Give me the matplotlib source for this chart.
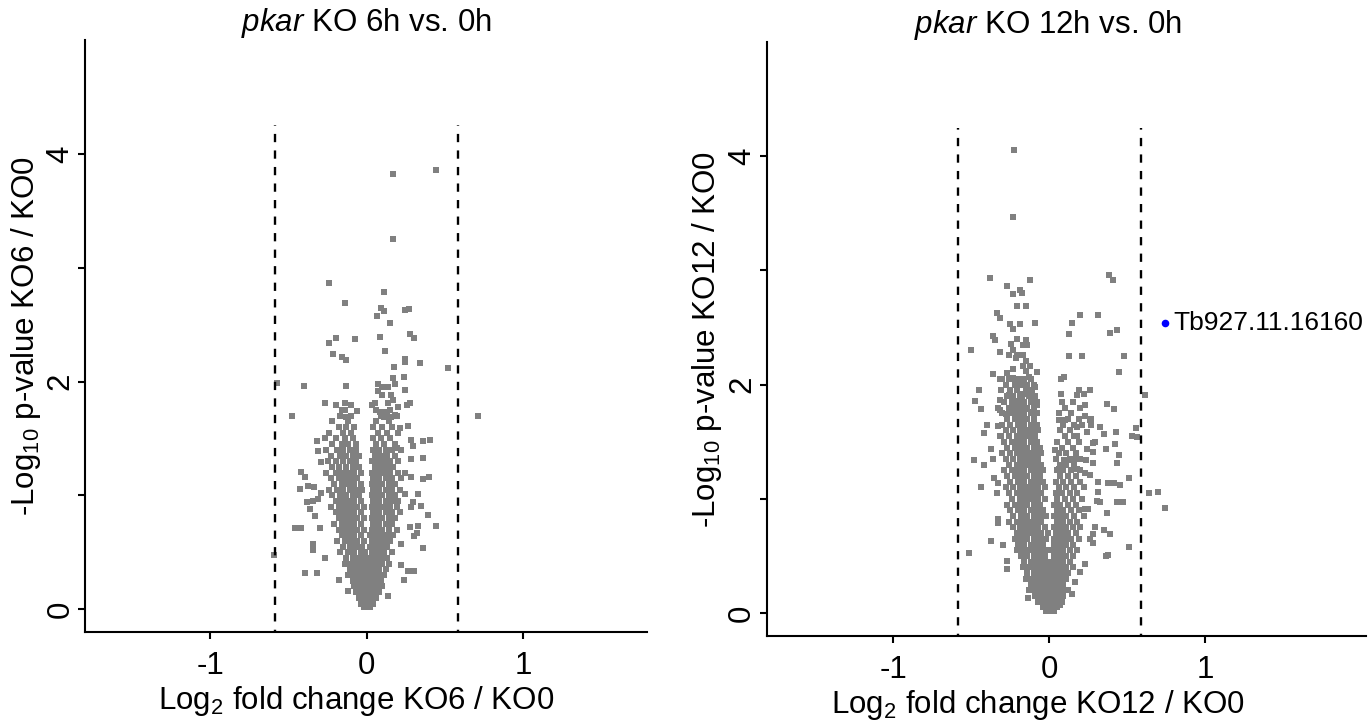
"""
Volcano plots: pkar KO 6h and 12h vs. 0h.
Output: out.png
"""

import numpy as np
import matplotlib.pyplot as plt

plt.rcParams["font.family"] = ["Liberation Sans", "DejaVu Sans"]
plt.rcParams["mathtext.fontset"] = "custom"
plt.rcParams["mathtext.rm"] = "Liberation Sans"
plt.rcParams["mathtext.it"] = "Liberation Sans:italic"
plt.rcParams["axes.unicode_minus"] = False

# ── data (log2 fold change, -log10 p) ─────────────────────────────────────────
fc_cut = 0.585          # log2(1.5)
cut_top = 4.25

# KO6: scattered points
ko6_points = [
    (0.164, 3.82), (0.443, 3.86), (0.164, 3.25), (-0.243, 2.87), (0.109, 2.79),
    (-0.141, 2.69), (0.089, 2.65), (0.111, 2.62), (0.247, 2.63), (0.268, 2.64),
    (0.062, 2.58), (0.147, 2.51), (-0.243, 2.34), (-0.196, 2.38), (-0.077, 2.37),
    (0.081, 2.39), (0.275, 2.42), (0.302, 2.38), (0.117, 2.27), (-0.215, 2.24),
    (-0.160, 2.22), (-0.132, 2.19), (0.247, 2.20), (0.247, 2.17), (0.341, 2.16),
    (0.173, 2.13), (0.516, 2.12), (-0.575, 1.99), (-0.400, 1.96), (-0.132, 1.96),
    (0.164, 2.03), (0.238, 2.04), (0.072, 1.98), (0.100, 1.95), (0.136, 1.95),
    (0.183, 1.98), (0.072, 1.92), (0.247, 1.93), (0.100, 1.88), (0.155, 1.88),
    (0.164, 1.84), (0.136, 1.81), (-0.270, 1.81), (-0.196, 1.79), (-0.141, 1.81),
    (-0.104, 1.79), (0.034, 1.79), (0.053, 1.81), (0.200, 1.78), (0.256, 1.79),
    (0.275, 1.81), (-0.160, 1.75), (-0.066, 1.74), (-0.475, 1.70), (0.711, 1.70),
    (-0.132, 1.69), (0.081, 1.73), (0.109, 1.73), (0.183, 1.71), (0.109, 1.69),
    (0.155, 1.69),
    (-0.318, 1.48), (-0.309, 1.39), (-0.290, 1.29), (-0.420, 1.21), (-0.392, 1.16),
    (-0.428, 1.06), (-0.373, 1.08), (-0.337, 1.07), (-0.290, 1.02), (-0.381, 0.94),
    (-0.345, 0.95), (-0.364, 0.88), (-0.309, 0.97), (-0.328, 0.82), (-0.456, 0.71),
    (-0.420, 0.71), (-0.300, 0.71), (-0.345, 0.57), (-0.345, 0.52), (-0.596, 0.48),
    (-0.270, 0.45), (-0.392, 0.32), (-0.318, 0.32), (-0.179, 0.26), (-0.123, 0.16),
    (0.136, 0.12), (0.266, 1.61), (0.285, 1.49), (0.358, 1.48), (0.405, 1.49),
    (0.294, 1.43), (0.285, 1.32), (0.358, 1.33), (0.247, 1.20), (0.285, 1.16),
    (0.358, 1.14), (0.396, 1.16), (0.330, 1.01), (0.247, 1.01), (0.294, 0.94),
    (0.285, 0.90), (0.349, 0.91), (0.388, 0.83), (0.443, 0.73), (0.330, 0.73),
    (0.275, 0.72), (0.322, 0.67), (0.302, 0.64), (0.358, 0.54), (0.266, 0.34),
    (0.302, 0.34), (0.236, 0.26), (0.219, 0.39), (0.219, 0.57), (0.211, 1.59),
    (0.192, 1.42),
]

# KO6: dense core, one row per -log10 p level
ko6_core = [
    (1.75, [-0.14, 0.06, 0.15]),
    (1.70, [-0.17, -0.10, 0.09, 0.13, 0.19]),
    (1.65, [-0.22, -0.12, 0.06, 0.14]),
    (1.60, [-0.18, -0.13, -0.08, 0.04, 0.10, 0.16]),
    (1.55, [-0.24, -0.15, -0.10, 0.07, 0.13, 0.20]),
    (1.50, [-0.27, -0.20, -0.14, -0.09, 0.04, 0.09, 0.15]),
    (1.45, [-0.22, -0.16, -0.12, -0.07, 0.06, 0.11, 0.18]),
    (1.40, [-0.26, -0.19, -0.15, -0.11, -0.07, 0.04, 0.08, 0.12, 0.16, 0.22]),
    (1.35, [-0.23, -0.17, -0.13, -0.09, -0.05, 0.05, 0.09, 0.13, 0.18]),
    (1.30, [-0.25, -0.20, -0.15, -0.11, -0.07, 0.03, 0.07, 0.11, 0.15, 0.20]),
    (1.25, [-0.22, -0.18, -0.13, -0.09, -0.05, 0.05, 0.09, 0.13, 0.17]),
    (1.20, [-0.26, -0.20, -0.16, -0.12, -0.08, -0.04, 0.03, 0.07, 0.11, 0.15, 0.20]),
    (1.15, [-0.23, -0.18, -0.14, -0.10, -0.06, 0.04, 0.08, 0.12, 0.16, 0.22]),
    (1.10, [-0.21, -0.16, -0.12, -0.08, -0.04, 0.03, 0.06, 0.10, 0.14, 0.18]),
    (1.05, [-0.24, -0.19, -0.15, -0.11, -0.07, -0.03, 0.04, 0.08, 0.12, 0.16, 0.21]),
    (1.00, [-0.22, -0.17, -0.13, -0.09, -0.05, 0.03, 0.06, 0.10, 0.14, 0.18]),
    (0.95, [-0.20, -0.16, -0.12, -0.08, -0.04, 0.04, 0.08, 0.12, 0.16, 0.20]),
    (0.90, [-0.23, -0.18, -0.14, -0.10, -0.06, -0.02, 0.03, 0.07, 0.11, 0.15, 0.19]),
    (0.85, [-0.20, -0.16, -0.12, -0.08, -0.04, 0.04, 0.08, 0.12, 0.16, 0.21]),
    (0.80, [-0.18, -0.14, -0.10, -0.06, -0.02, 0.03, 0.06, 0.10, 0.14, 0.18]),
    (0.75, [-0.21, -0.16, -0.12, -0.08, -0.04, 0.04, 0.08, 0.12, 0.16]),
    (0.70, [-0.18, -0.14, -0.10, -0.06, -0.02, 0.03, 0.06, 0.10, 0.14, 0.19]),
    (0.65, [-0.16, -0.12, -0.08, -0.04, 0.02, 0.05, 0.09, 0.13, 0.17]),
    (0.60, [-0.19, -0.14, -0.10, -0.06, -0.02, 0.03, 0.07, 0.11, 0.15]),
    (0.55, [-0.15, -0.11, -0.07, -0.03, 0.02, 0.05, 0.09, 0.13]),
    (0.50, [-0.17, -0.12, -0.08, -0.04, -0.01, 0.03, 0.07, 0.11, 0.16]),
    (0.45, [-0.13, -0.09, -0.05, -0.02, 0.02, 0.05, 0.09, 0.13]),
    (0.40, [-0.14, -0.10, -0.06, -0.03, 0.00, 0.03, 0.06, 0.10, 0.14]),
    (0.35, [-0.11, -0.07, -0.04, -0.01, 0.02, 0.05, 0.08, 0.12]),
    (0.30, [-0.12, -0.08, -0.05, -0.02, 0.01, 0.04, 0.07, 0.11]),
    (0.25, [-0.09, -0.06, -0.03, 0.00, 0.03, 0.06, 0.09]),
    (0.20, [-0.08, -0.05, -0.02, 0.01, 0.04, 0.07, 0.10]),
    (0.15, [-0.07, -0.04, -0.01, 0.02, 0.05, 0.08]),
    (0.10, [-0.05, -0.02, 0.01, 0.04, 0.06]),
    (0.05, [-0.04, -0.01, 0.02, 0.04]),
    (0.02, [-0.02, 0.00, 0.02]),
]

# KO12: scattered points
ko12_points = [
    (-0.224, 4.05), (-0.233, 3.47), (-0.383, 2.93), (-0.122, 2.92), (0.380, 2.96),
    (0.406, 2.92), (-0.271, 2.86), (-0.186, 2.83), (-0.177, 2.80), (-0.233, 2.79),
    (-0.205, 2.69), (-0.150, 2.69), (-0.335, 2.63), (-0.318, 2.58), (0.194, 2.61),
    (0.314, 2.61), (-0.252, 2.53), (-0.186, 2.53), (-0.094, 2.54), (-0.233, 2.49),
    (0.147, 2.54), (0.128, 2.44), (0.389, 2.45), (0.434, 2.48), (-0.363, 2.43),
    (-0.346, 2.39), (-0.244, 2.36), (-0.205, 2.40), (-0.150, 2.39), (-0.169, 2.35),
    (-0.141, 2.35), (-0.504, 2.30), (-0.318, 2.29), (-0.233, 2.30), (-0.261, 2.26),
    (-0.205, 2.26), (-0.169, 2.26), (-0.216, 2.23), (0.128, 2.25), (0.212, 2.25),
    (0.481, 2.25), (-0.150, 2.21), (-0.169, 2.16), (-0.122, 2.16), (-0.150, 2.12),
    (-0.233, 2.14), (-0.271, 2.10), (-0.363, 2.09), (-0.318, 2.05), (-0.233, 2.06),
    (-0.261, 2.05), (-0.130, 2.07), (-0.077, 2.11), (0.444, 2.11), (0.073, 2.05),
    (0.092, 2.07), (-0.094, 1.98), (-0.449, 1.95), (-0.476, 1.86), (-0.440, 1.79),
    (-0.318, 1.87), (-0.261, 1.91), (-0.169, 1.92), (-0.113, 1.92), (-0.103, 1.88),
    (-0.077, 1.82), (-0.205, 1.86), (-0.177, 1.90), (0.073, 1.92), (0.175, 1.91),
    (0.188, 1.95), (0.222, 1.92), (0.258, 1.95), (0.231, 1.82), (0.370, 1.83),
    (0.417, 1.79), (0.611, 1.91), (-0.318, 1.78), (-0.280, 1.74), (-0.150, 1.79),
    (-0.113, 1.76), (0.231, 1.73), (0.267, 1.70), (0.064, 1.69), (0.101, 1.69),
    (-0.402, 1.65), (-0.421, 1.58), (-0.485, 1.34), (-0.421, 1.30), (-0.440, 1.10),
    (-0.513, 0.53), (-0.374, 0.63), (-0.299, 0.60), (-0.355, 1.18), (-0.327, 1.14),
    (-0.335, 1.05), (-0.327, 0.82), (-0.327, 0.79), (-0.374, 1.44), (-0.363, 1.35),
    (-0.318, 1.55), (-0.327, 1.64), (-0.271, 0.39), (-0.271, 0.46),
    (0.156, 1.65), (0.175, 1.63), (0.258, 1.69), (0.267, 1.65), (0.325, 1.63),
    (0.351, 1.57), (0.427, 1.59), (0.556, 1.62), (0.528, 1.55), (0.564, 1.54),
    (0.239, 1.59), (0.177, 1.55), (0.295, 1.50), (0.278, 1.49), (0.423, 1.48),
    (0.036, 1.43), (0.241, 1.44), (0.278, 1.41), (0.361, 1.44), (0.444, 1.38),
    (0.434, 1.31), (0.278, 1.31), (0.233, 1.34), (0.164, 1.35), (0.118, 1.34),
    (0.092, 1.34), (0.062, 1.26), (0.178, 1.26), (0.231, 1.23), (0.258, 1.21),
    (0.314, 1.15), (0.378, 1.14), (0.417, 1.14), (0.453, 1.12), (0.509, 1.18),
    (0.637, 1.05), (0.694, 1.06), (0.741, 0.92), (0.314, 1.06), (0.303, 0.98),
    (0.325, 0.97), (0.436, 0.97), (0.472, 0.97), (0.370, 0.88), (0.250, 0.91),
    (0.231, 0.91), (0.295, 0.75), (0.348, 0.73), (0.387, 0.69), (0.278, 0.69),
    (0.258, 0.65), (0.278, 0.61), (0.509, 0.58), (0.361, 0.50), (0.378, 0.51),
    (0.231, 0.43), (0.194, 0.36), (0.164, 0.27), (0.147, 0.17), (0.070, 0.07),
    (-0.137, 0.13),
]

# KO12: dense core
ko12_core = [
    (2.05, [-0.30, -0.24, -0.20, -0.16, -0.12]),
    (2.00, [-0.28, -0.22, -0.18, -0.14, -0.10]),
    (1.95, [-0.31, -0.25, -0.21, -0.15, -0.11]),
    (1.90, [-0.27, -0.23, -0.19, -0.13, -0.09]),
    (1.85, [-0.29, -0.24, -0.20, -0.16, -0.12, -0.08, 0.08, 0.15]),
    (1.80, [-0.33, -0.26, -0.22, -0.18, -0.14, -0.10, 0.10, 0.20]),
    (1.75, [-0.30, -0.24, -0.20, -0.16, -0.12, -0.08, 0.06, 0.14]),
    (1.70, [-0.27, -0.22, -0.18, -0.14, -0.10, 0.12, 0.19]),
    (1.65, [-0.30, -0.25, -0.20, -0.16, -0.12, -0.08, 0.09, 0.21]),
    (1.60, [-0.28, -0.23, -0.19, -0.15, -0.11, -0.07, 0.07, 0.13]),
    (1.55, [-0.31, -0.26, -0.21, -0.17, -0.13, -0.09, 0.10, 0.16]),
    (1.50, [-0.29, -0.24, -0.20, -0.16, -0.12, -0.08, 0.05, 0.12, 0.19]),
    (1.45, [-0.27, -0.22, -0.18, -0.14, -0.10, -0.06, 0.08, 0.15]),
    (1.40, [-0.30, -0.25, -0.21, -0.17, -0.13, -0.09, -0.05, 0.06, 0.11, 0.17]),
    (1.35, [-0.28, -0.23, -0.19, -0.15, -0.11, -0.07, 0.04, 0.13, 0.20]),
    (1.30, [-0.26, -0.21, -0.17, -0.13, -0.09, -0.05, 0.07, 0.11, 0.16]),
    (1.25, [-0.29, -0.24, -0.20, -0.16, -0.12, -0.08, -0.04, 0.05, 0.09, 0.14, 0.20]),
    (1.20, [-0.27, -0.22, -0.18, -0.14, -0.10, -0.06, 0.07, 0.12, 0.17]),
    (1.15, [-0.25, -0.20, -0.16, -0.12, -0.08, -0.04, 0.04, 0.09, 0.14, 0.20]),
    (1.10, [-0.28, -0.23, -0.19, -0.15, -0.11, -0.07, -0.03, 0.06, 0.11, 0.16, 0.22]),
    (1.05, [-0.26, -0.21, -0.17, -0.13, -0.09, -0.05, 0.04, 0.08, 0.13, 0.18]),
    (1.00, [-0.24, -0.19, -0.15, -0.11, -0.07, -0.03, 0.05, 0.10, 0.15, 0.21]),
    (0.95, [-0.27, -0.22, -0.18, -0.14, -0.10, -0.06, 0.03, 0.07, 0.12, 0.17]),
    (0.90, [-0.25, -0.20, -0.16, -0.12, -0.08, -0.04, 0.05, 0.09, 0.14, 0.19]),
    (0.85, [-0.23, -0.18, -0.14, -0.10, -0.06, -0.02, 0.03, 0.07, 0.11, 0.16, 0.22]),
    (0.80, [-0.26, -0.21, -0.17, -0.13, -0.09, -0.05, 0.05, 0.09, 0.13, 0.18]),
    (0.75, [-0.23, -0.19, -0.15, -0.11, -0.07, -0.03, 0.03, 0.07, 0.11, 0.15, 0.20]),
    (0.70, [-0.21, -0.17, -0.13, -0.09, -0.05, -0.01, 0.04, 0.08, 0.12, 0.17]),
    (0.65, [-0.22, -0.18, -0.14, -0.10, -0.06, -0.02, 0.03, 0.06, 0.10, 0.14, 0.19]),
    (0.60, [-0.20, -0.16, -0.12, -0.08, -0.04, 0.03, 0.07, 0.11, 0.15]),
    (0.55, [-0.21, -0.17, -0.13, -0.09, -0.05, -0.02, 0.02, 0.05, 0.09, 0.13, 0.18]),
    (0.50, [-0.18, -0.14, -0.10, -0.06, -0.03, 0.03, 0.07, 0.11, 0.15]),
    (0.45, [-0.16, -0.12, -0.08, -0.04, -0.01, 0.02, 0.05, 0.09, 0.13]),
    (0.40, [-0.17, -0.13, -0.09, -0.06, -0.03, 0.01, 0.04, 0.07, 0.11, 0.15]),
    (0.35, [-0.14, -0.10, -0.07, -0.04, -0.01, 0.02, 0.05, 0.09, 0.12]),
    (0.30, [-0.15, -0.11, -0.08, -0.05, -0.02, 0.01, 0.04, 0.07, 0.11]),
    (0.25, [-0.12, -0.09, -0.06, -0.03, 0.00, 0.03, 0.06, 0.09]),
    (0.20, [-0.13, -0.10, -0.07, -0.04, -0.01, 0.02, 0.05, 0.08, 0.12]),
    (0.15, [-0.09, -0.06, -0.03, 0.00, 0.03, 0.06, 0.09]),
    (0.10, [-0.07, -0.04, -0.01, 0.02, 0.05, 0.08]),
    (0.05, [-0.04, -0.01, 0.02, 0.05]),
    (0.02, [-0.02, 0.01, 0.03]),
]

# KO12: labelled hit
hit_x = [0.741]
hit_y = [2.54]
hit_name = ["Tb927.11.16160"]

titles = ["KO 6h vs. 0h", "KO 12h vs. 0h"]
xlabels = ["KO6 / KO0", "KO12 / KO0"]


def flatten(points, core):
    xs = [p[0] for p in points]
    ys = [p[1] for p in points]
    for yv, row in core:
        xs += row
        ys += [yv] * len(row)
    return np.array(xs), np.array(ys)


fig = plt.figure(figsize=(13.72, 7.21), dpi=100)
ax1 = fig.add_axes([0.0620, 0.1234, 0.4096, 0.8211])
ax2 = fig.add_axes([0.5590, 0.1179, 0.4366, 0.8239])

# title / x label centres in axes fraction (the right panel's sit over x = 0)
panels = [
    (ax1, flatten(ko6_points, ko6_core), (-1.80, 1.79), titles[0], xlabels[0], 0.5, 0.482),
    (ax2, flatten(ko12_points, ko12_core), (-1.81, 2.03), titles[1], xlabels[1], 0.469, 0.452),
]

FS = 22.5
for ax, (xs, ys), xlim, title, xl, tc, lc in panels:
    ax.scatter(xs, ys, marker="s", s=19, color="#808080", linewidths=0, zorder=2)
    for xv in (-fc_cut, fc_cut):
        ax.plot([xv, xv], [-0.25, cut_top], color="black", lw=1.7,
                ls=(0, (3.5, 3.5)), zorder=3)
    ax.set_xlim(*xlim)
    ax.set_ylim(-0.2, 5.0)
    for side in ("top", "right"):
        ax.spines[side].set_visible(False)
    for side in ("left", "bottom"):
        ax.spines[side].set_linewidth(1.5)
    ax.set_xticks([-1, 0, 1])
    ax.set_xticklabels(["-1", "0", "1"])
    ax.set_yticks([0, 1, 2, 3, 4])
    ax.set_yticklabels(["0", "", "2", "", "4"], rotation=90, va="center")
    ax.tick_params(length=5, width=1.5, labelsize=FS)
    ax.tick_params(axis="x", pad=9)
    ax.tick_params(axis="y", pad=2)
    ax.set_title(r"$\mathit{pkar}$ " + title, fontsize=FS, pad=6, x=tc)
    ax.set_xlabel(r"Log$_2$ fold change " + xl, fontsize=FS, labelpad=2, x=lc)
    ax.set_ylabel(r"-Log$_{10}$ p-value " + xl, fontsize=FS, labelpad=2)

ax2.scatter(hit_x, hit_y, s=30, color="#0000FF", linewidths=0, zorder=4)
for hx, hy, name in zip(hit_x, hit_y, hit_name):
    ax2.annotate(name, (hx, hy), xytext=(6, 0), textcoords="offset points",
                 va="center", ha="left", fontsize=19, annotation_clip=False)

fig.savefig("out.png", dpi=100)
